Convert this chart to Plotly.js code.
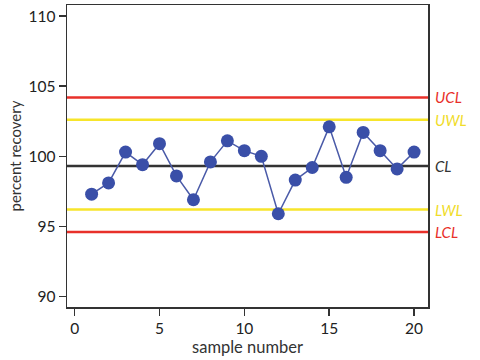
<!DOCTYPE html>
<html>
<head>
<meta charset="utf-8">
<script src="https://cdn.plot.ly/plotly-3.0.1.min.js"></script>
<style>html,body{margin:0;padding:0;background:#fff;}#chart{width:480px;height:360px;}</style>
</head>
<body>
<div id="chart"></div>
<script>
var sampleNumber = [1,2,3,4,5,6,7,8,9,10,11,12,13,14,15,16,17,18,19,20];
var percentRecovery = [97.3,98.1,100.3,99.4,100.9,98.6,96.9,99.6,101.1,100.4,100.0,95.9,98.3,99.2,102.1,98.5,101.7,100.4,99.1,100.3];
var limitNames = ["UCL","UWL","CL","LWL","LCL"];
var limitValues = [104.2,102.6,99.3,96.2,94.6];
var limitColors = ["#e8302a","#f7e52b","#333333","#f7e52b","#e8302a"];
var labelColors = ["#e8302a","#f0dc2a","#333333","#f0dc2a","#e8302a"];
var xTicks = [0,5,10,15,20];
var yTicks = [90,95,100,105,110];

var shapes = limitValues.map(function(v,i){
  return {type:'line', xref:'paper', yref:'y', x0:0, x1:1, y0:v, y1:v,
          line:{color:limitColors[i], width:2.5}, layer:'below'};
});
var annotations = limitValues.map(function(v,i){
  return {xref:'paper', yref:'y', x:1, y:v, xanchor:'left', yanchor:'middle',
          xshift:5, showarrow:false, text:'<i>'+limitNames[i]+'</i>',
          font:{family:'Lato, "Open Sans", sans-serif', size:15, color:labelColors[i]}};
});

var trace = {
  x: sampleNumber, y: percentRecovery, type:'scatter', mode:'lines+markers',
  line:{color:'#4a5aa8', width:1.5},
  marker:{color:'#3a4fa8', size:13},
  hoverinfo:'none'
};

var layout = {
  width:480, height:360,
  margin:{l:67, r:52, t:5, b:53},
  paper_bgcolor:'#fff', plot_bgcolor:'#fff',
  showlegend:false,
  font:{family:'Lato, "Open Sans", sans-serif', size:15, color:'#222'},
  xaxis:{range:[-0.45,20.82], tickvals:xTicks, ticktext:xTicks.map(String),
         showgrid:false, zeroline:false, showline:true, mirror:true,
         linecolor:'#333', linewidth:1.5, ticks:'outside', ticklen:7, tickwidth:1.5,
         tickcolor:'#333', tickfont:{size:15.5, color:'#222'},
         title:{text:'sample number', font:{size:16.5, color:'#333'}, standoff:3}},
  yaxis:{range:[89.25,110.79], tickvals:yTicks, ticktext:yTicks.map(String),
         showgrid:false, zeroline:false, showline:true, mirror:true,
         linecolor:'#333', linewidth:1.5, ticks:'outside', ticklen:7, tickwidth:1.5,
         tickcolor:'#333', tickfont:{size:15.5, color:'#222'},
         title:{text:'percent recovery', font:{size:15, color:'#333'}, standoff:3}},
  shapes: shapes,
  annotations: annotations
};

Plotly.newPlot('chart', [trace], layout, {displayModeBar:false, staticPlot:true});
</script>
</body>
</html>
